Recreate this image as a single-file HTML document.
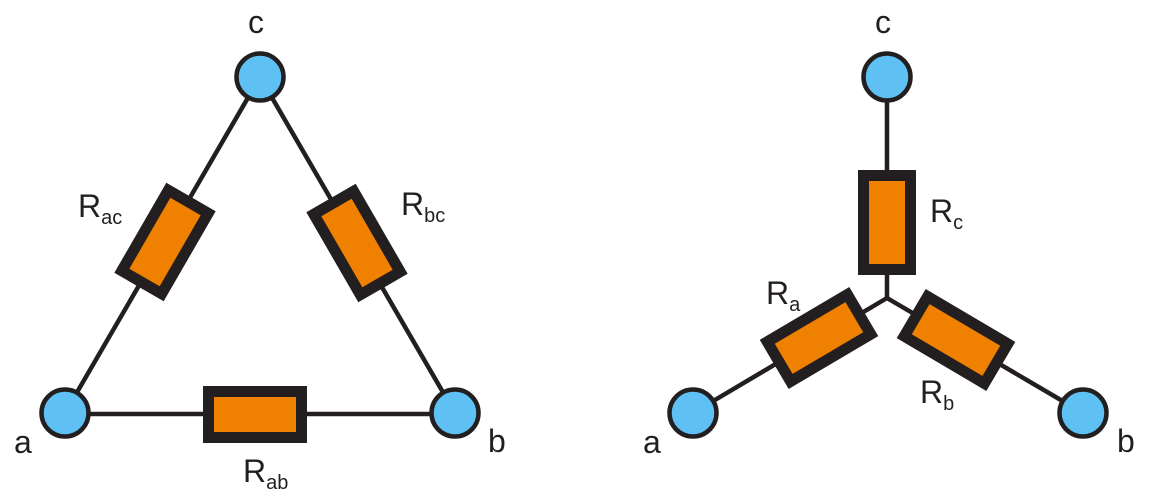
<!DOCTYPE html>
<html><head><style>body{margin:0;background:#fff}svg{display:block}text{font-family:"Liberation Sans",sans-serif;fill:#231f20}</style></head>
<body>
<svg width="1154" height="502" viewBox="0 0 1154 502">
<g stroke="#231f20" stroke-width="4.5" fill="none">
<line x1="260" y1="77" x2="65" y2="413"/>
<line x1="260" y1="77" x2="455" y2="413"/>
<line x1="65" y1="414" x2="455" y2="414"/>
<line x1="887" y1="77" x2="887" y2="298"/>
<line x1="887" y1="298" x2="693" y2="413"/>
<line x1="887" y1="298" x2="1083" y2="413"/>
</g>
<g fill="#f08000" stroke="#231f20" stroke-width="11">
<rect x="208.5" y="391.5" width="93" height="46"/>
<rect x="-46.5" y="-23" width="93" height="46" transform="translate(165,242) rotate(-60)"/>
<rect x="-46.5" y="-23" width="93" height="46" transform="translate(357,243) rotate(60)"/>
<rect x="863.5" y="175.5" width="47" height="94"/>
<rect x="-46.5" y="-23" width="93" height="46" transform="translate(819,338) rotate(-30.5)"/>
<rect x="-46.5" y="-23" width="93" height="46" transform="translate(956,340) rotate(30.5)"/>
</g>
<g fill="#5fc0f4" stroke="#231f20" stroke-width="4.5">
<circle cx="260" cy="77" r="23.5"/>
<circle cx="65" cy="413" r="23.5"/>
<circle cx="455" cy="413" r="23.5"/>
<circle cx="887" cy="77" r="23.5"/>
<circle cx="693" cy="413" r="23.5"/>
<circle cx="1083" cy="413" r="23.5"/>
</g>
<g font-size="32">
<text x="248" y="33">c</text>
<text x="14" y="453">a</text>
<text x="488" y="452">b</text>
<text x="78" y="217">R<tspan font-size="20" dy="7">ac</tspan></text>
<text x="401" y="215">R<tspan font-size="20" dy="7">bc</tspan></text>
<text x="243" y="482">R<tspan font-size="20" dy="7">ab</tspan></text>
<text x="875" y="33">c</text>
<text x="643" y="453">a</text>
<text x="1117" y="452">b</text>
<text x="930" y="222">R<tspan font-size="20" dy="7">c</tspan></text>
<text x="766" y="304">R<tspan font-size="20" dy="7">a</tspan></text>
<text x="920" y="403">R<tspan font-size="20" dy="7">b</tspan></text>
</g>
</svg>
</body></html>
